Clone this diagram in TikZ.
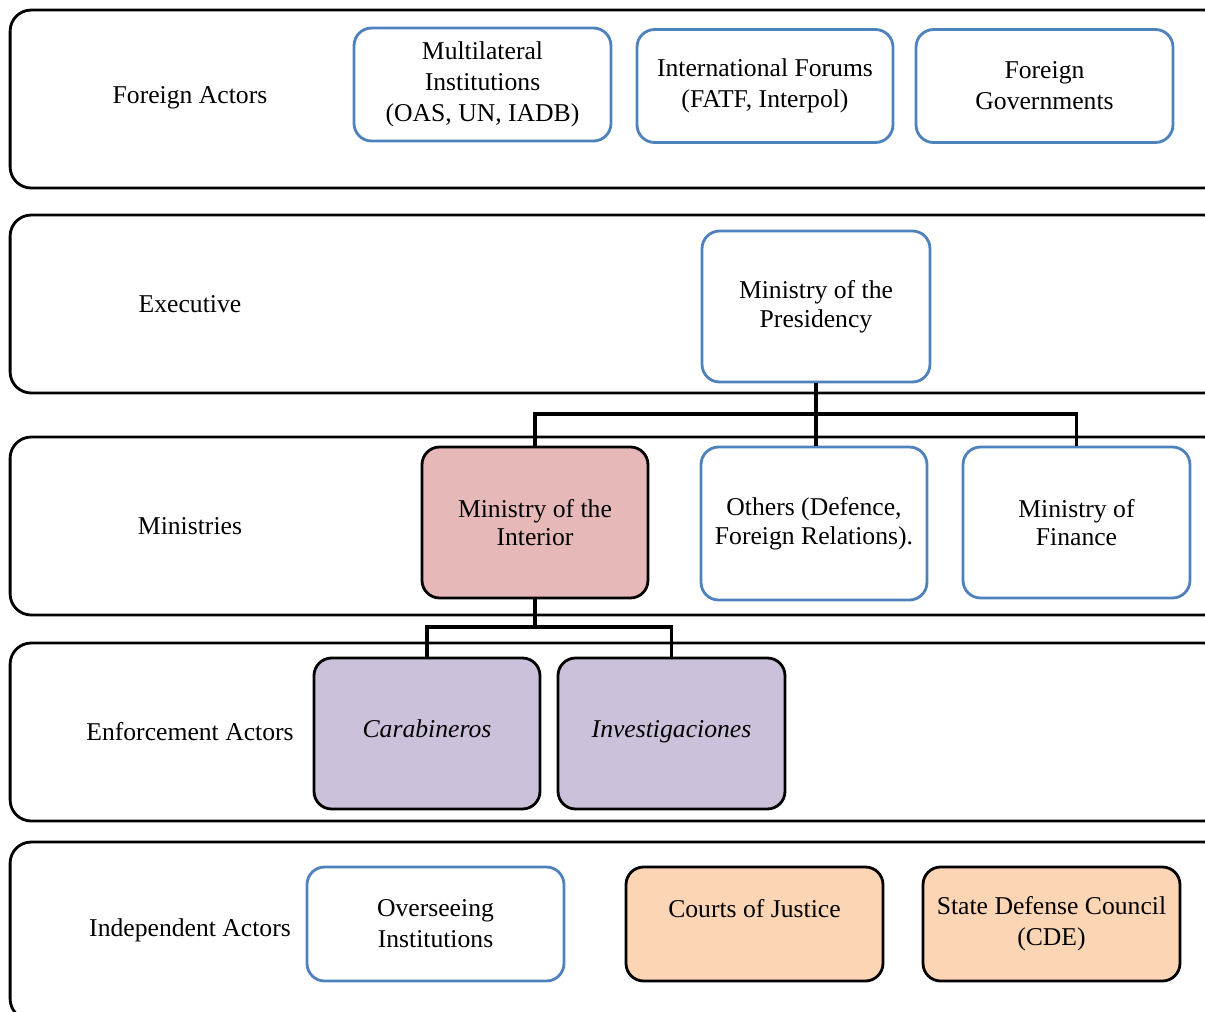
\documentclass[tikz,border=0pt]{standalone}
\usepackage{fontspec}
\setmainfont{Liberation Serif}
\usetikzlibrary{positioning,calc}
\definecolor{myblue}{RGB}{79,129,189}
\definecolor{myred}{RGB}{230,185,184}
\definecolor{mypurple}{RGB}{204,193,218}
\definecolor{myorange}{RGB}{252,213,180}
\newcommand{\boxfont}{\fontsize{14.6}{16.2}\selectfont}
\newcommand{\wideboxfont}{\fontsize{14.6}{17.6}\selectfont}
\tikzset{
  rowbox/.style={draw,rounded corners=12pt,line width=1.6pt,minimum width=24.3cm,minimum height=3.56cm},
  rowlabel/.style={font=\boxfont,align=center},
  bluebox/.style={draw=myblue,rounded corners=10pt,line width=1.6pt,fill=white,align=center,font=\boxfont},
  fillbox/.style={draw,rounded corners=10pt,line width=1.6pt,fill=#1,align=center,font=\boxfont},
}
\begin{document}
\begin{tikzpicture}[
    x=0.02cm,y=-0.02cm,
    conn/.style={line width=2pt},
  ]
    \clip (0,0) rectangle (1205,1012);
    \useasboundingbox (0,0) rectangle (1205,1012);
    % Rows
    \node[rowbox] (row1) at (617.5,99) {};
    \node[rowbox] (row2) at (617.5,304) {};
    \node[rowbox] (row3) at (617.5,526) {};
    \node[rowbox] (row4) at (617.5,732) {};
    \node[rowbox] (row5) at (617.5,931) {};
    \node[rowlabel] (lab1) at (190,98) {Foreign Actors};
    \node[rowlabel] (lab2) at (190,304) {Executive};
    \node[rowlabel] (lab3) at (190,526) {Ministries};
    \node[rowlabel] (lab4) at (190,732) {Enforcement Actors};
    \node[rowlabel] (lab5) at (190,930) {Independent Actors};
    % Foreign actors
    \node[bluebox,font=\wideboxfont,minimum width=5.14cm,minimum height=2.26cm] (multi) at (482.5,84.5) {Multilateral\\Institutions\\(OAS, UN, IADB)};
    \node[bluebox,font=\wideboxfont,minimum width=5.12cm,minimum height=2.26cm] (forums) at (765,86) {International Forums\\(FATF, Interpol)};
    \node[bluebox,font=\wideboxfont,minimum width=5.14cm,minimum height=2.26cm] (foreign) at (1044.5,86) {Foreign\\Governments};
    % Executive
    \node[bluebox,minimum width=4.56cm,minimum height=3.02cm] (pres) at (816,306.5) {Ministry of the\\Presidency};
    % Ministries
    \node[fillbox=myred,minimum width=4.52cm,minimum height=3.02cm] (interior) at (535,522.5) {Ministry of the\\Interior};
    \node[bluebox,minimum width=4.52cm,minimum height=3.06cm] (others) at (814,523.5) {Others (Defence,\\Foreign Relations).};
    \node[bluebox,minimum width=4.54cm,minimum height=3.02cm] (finance) at (1076.5,522.5) {Ministry of\\Finance};
    % Enforcement
    \node[fillbox=mypurple,minimum width=4.52cm,minimum height=3.02cm,font=\boxfont\itshape,text height=0.7em,text depth=0.2em] (carab) at (427,733.5) {Carabineros};
    \node[fillbox=mypurple,minimum width=4.54cm,minimum height=3.02cm,font=\boxfont\itshape,text height=0.7em,text depth=0.2em] (invest) at (671.5,733.5) {Investigaciones};
    % Independent
    \node[bluebox,font=\wideboxfont,minimum width=5.14cm,minimum height=2.28cm] (oversee) at (435.5,924) {Overseeing\\Institutions};
    \node[fillbox=myorange,font=\wideboxfont,minimum width=5.14cm,minimum height=2.28cm] (courts) at (754.5,924) {Courts of Justice\\\mbox{}};
    \node[fillbox=myorange,font=\wideboxfont,minimum width=5.14cm,minimum height=2.28cm] (cde) at (1051.5,924) {State Defense Council\\(CDE)};
    % Connectors
    \coordinate (bar) at (816,414);
    \coordinate (bar2) at (535,627);
    \draw[conn] (interior.north) |- (bar) -| (finance.north);
    \draw[line width=2.6pt] (pres.south) -- (pres.south |- others.north);
    \draw[conn] (interior.south) -- (bar2);
    \draw[conn] (carab.north) |- (bar2) -| (invest.north);
  \end{tikzpicture}
\end{document}
